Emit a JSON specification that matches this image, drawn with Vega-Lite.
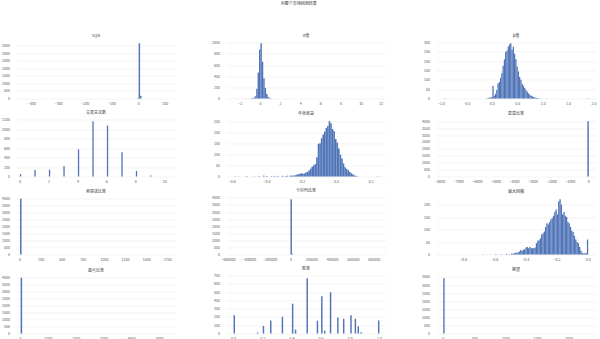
{
"$schema": "https://vega.github.io/schema/vega-lite/v6.json",
"padding": {"left": 1.5, "top": 1.5, "right": 1, "bottom": 1},
"title": {"text": "对整个市场回测结果", "fontSize": 4, "offset": 28, "anchor": "middle", "fontWeight": "normal", "color": "#333333"},
"columns": 3,
"spacing": {"row": 5, "column": 36},
"datasets": {
"p1": [{"s":-429,"e":-423.6,"n":1},{"s":-5.4,"e":0,"n":40},{"s":0,"e":5.4,"n":3650},{"s":5.4,"e":10.8,"n":175},{"s":107.6,"e":113,"n":1}],
"p2": [{"s":-2.6,"e":-2.46,"n":1},{"s":-1.54,"e":-1.4,"n":2},{"s":-0.98,"e":-0.84,"n":4},{"s":-0.84,"e":-0.7,"n":8},{"s":-0.7,"e":-0.56,"n":15},{"s":-0.56,"e":-0.42,"n":40},{"s":-0.42,"e":-0.28,"n":175},{"s":-0.28,"e":-0.14,"n":465},{"s":-0.14,"e":0,"n":880},{"s":0,"e":0.14,"n":990},{"s":0.14,"e":0.28,"n":660},{"s":0.28,"e":0.42,"n":365},{"s":0.42,"e":0.56,"n":190},{"s":0.56,"e":0.7,"n":80},{"s":0.7,"e":0.84,"n":30},{"s":0.84,"e":0.98,"n":10},{"s":0.98,"e":1.12,"n":3},{"s":11.61,"e":11.75,"n":1}],
"p3": [{"s":-0.948,"e":-0.923,"n":1},{"s":-0.125,"e":-0.1,"n":2},{"s":-0.1,"e":-0.075,"n":3},{"s":-0.075,"e":-0.05,"n":4},{"s":-0.05,"e":-0.025,"n":5},{"s":-0.025,"e":0,"n":8},{"s":0,"e":0.025,"n":69},{"s":0.025,"e":0.05,"n":15},{"s":0.05,"e":0.075,"n":25},{"s":0.075,"e":0.1,"n":46},{"s":0.1,"e":0.125,"n":80},{"s":0.125,"e":0.15,"n":88},{"s":0.15,"e":0.175,"n":110},{"s":0.175,"e":0.2,"n":136},{"s":0.2,"e":0.225,"n":175},{"s":0.225,"e":0.25,"n":210},{"s":0.25,"e":0.275,"n":250},{"s":0.275,"e":0.3,"n":258},{"s":0.3,"e":0.325,"n":278},{"s":0.325,"e":0.35,"n":290},{"s":0.35,"e":0.375,"n":296},{"s":0.375,"e":0.4,"n":262},{"s":0.4,"e":0.425,"n":277},{"s":0.425,"e":0.45,"n":240},{"s":0.45,"e":0.475,"n":210},{"s":0.475,"e":0.5,"n":172},{"s":0.5,"e":0.525,"n":145},{"s":0.525,"e":0.55,"n":115},{"s":0.55,"e":0.575,"n":100},{"s":0.575,"e":0.6,"n":78},{"s":0.6,"e":0.625,"n":68},{"s":0.625,"e":0.65,"n":56},{"s":0.65,"e":0.675,"n":45},{"s":0.675,"e":0.7,"n":36},{"s":0.7,"e":0.725,"n":27},{"s":0.725,"e":0.75,"n":20},{"s":0.75,"e":0.775,"n":15},{"s":0.775,"e":0.8,"n":12},{"s":0.8,"e":0.825,"n":8},{"s":0.825,"e":0.85,"n":5},{"s":0.85,"e":0.875,"n":4},{"s":0.875,"e":0.9,"n":3},{"s":0.9,"e":0.925,"n":2},{"s":0.95,"e":0.975,"n":1},{"s":1.05,"e":1.075,"n":1},{"s":1.873,"e":1.898,"n":1}],
"p4": [{"s":0,"e":0.09,"n":50},{"s":1,"e":1.09,"n":140},{"s":2,"e":2.09,"n":145},{"s":3,"e":3.09,"n":222},{"s":4,"e":4.09,"n":576},{"s":5,"e":5.09,"n":1172},{"s":6,"e":6.09,"n":1083},{"s":7,"e":7.09,"n":513},{"s":8,"e":8.09,"n":118},{"s":9,"e":9.09,"n":20}],
"p5": [{"s":-0.588,"e":-0.579,"n":1},{"s":-0.567,"e":-0.558,"n":1},{"s":-0.522,"e":-0.513,"n":2},{"s":-0.477,"e":-0.468,"n":1},{"s":-0.45,"e":-0.441,"n":2},{"s":-0.423,"e":-0.414,"n":4},{"s":-0.405,"e":-0.396,"n":2},{"s":-0.378,"e":-0.369,"n":2},{"s":-0.36,"e":-0.351,"n":3},{"s":-0.342,"e":-0.333,"n":2},{"s":-0.315,"e":-0.306,"n":3},{"s":-0.297,"e":-0.288,"n":2},{"s":-0.288,"e":-0.279,"n":4},{"s":-0.27,"e":-0.261,"n":3},{"s":-0.261,"e":-0.252,"n":5},{"s":-0.252,"e":-0.243,"n":4},{"s":-0.243,"e":-0.234,"n":6},{"s":-0.234,"e":-0.225,"n":8},{"s":-0.225,"e":-0.216,"n":10},{"s":-0.216,"e":-0.207,"n":12},{"s":-0.207,"e":-0.198,"n":15},{"s":-0.198,"e":-0.189,"n":13},{"s":-0.189,"e":-0.18,"n":14},{"s":-0.18,"e":-0.171,"n":18},{"s":-0.171,"e":-0.162,"n":21},{"s":-0.162,"e":-0.153,"n":28},{"s":-0.153,"e":-0.144,"n":36},{"s":-0.144,"e":-0.135,"n":45},{"s":-0.135,"e":-0.126,"n":52},{"s":-0.126,"e":-0.117,"n":57},{"s":-0.117,"e":-0.108,"n":88},{"s":-0.108,"e":-0.099,"n":150},{"s":-0.099,"e":-0.09,"n":153},{"s":-0.09,"e":-0.081,"n":176},{"s":-0.081,"e":-0.072,"n":193},{"s":-0.072,"e":-0.063,"n":206},{"s":-0.063,"e":-0.054,"n":222},{"s":-0.054,"e":-0.045,"n":232},{"s":-0.045,"e":-0.036,"n":254},{"s":-0.036,"e":-0.027,"n":244},{"s":-0.027,"e":-0.018,"n":218},{"s":-0.018,"e":-0.009,"n":208},{"s":-0.009,"e":0,"n":172},{"s":0,"e":0.009,"n":156},{"s":0.009,"e":0.018,"n":128},{"s":0.018,"e":0.027,"n":100},{"s":0.027,"e":0.036,"n":82},{"s":0.036,"e":0.045,"n":60},{"s":0.045,"e":0.054,"n":42},{"s":0.054,"e":0.063,"n":35},{"s":0.063,"e":0.072,"n":29},{"s":0.072,"e":0.081,"n":21},{"s":0.081,"e":0.09,"n":15},{"s":0.09,"e":0.099,"n":10},{"s":0.099,"e":0.108,"n":5},{"s":0.108,"e":0.117,"n":3},{"s":0.117,"e":0.126,"n":1},{"s":0.234,"e":0.243,"n":1}],
"p6": [{"s":-7785,"e":-7707,"n":1},{"s":-78,"e":0,"n":3995}],
"p7": [{"s":0,"e":18,"n":3990},{"s":1690,"e":1708,"n":1}],
"p8": [{"s":-580000,"e":-566000,"n":1},{"s":-5000,"e":9000,"n":3900},{"s":9000,"e":23000,"n":40},{"s":850000,"e":864000,"n":1}],
"p9": [{"s":-0.0084,"e":0,"n":60},{"s":-0.0168,"e":-0.0084,"n":6},{"s":-0.0252,"e":-0.0168,"n":5},{"s":-0.0336,"e":-0.0252,"n":4},{"s":-0.042,"e":-0.0336,"n":6},{"s":-0.0504,"e":-0.042,"n":15},{"s":-0.0588,"e":-0.0504,"n":30},{"s":-0.0672,"e":-0.0588,"n":45},{"s":-0.0756,"e":-0.0672,"n":50},{"s":-0.084,"e":-0.0756,"n":60},{"s":-0.0924,"e":-0.084,"n":75},{"s":-0.1008,"e":-0.0924,"n":90},{"s":-0.1092,"e":-0.1008,"n":95},{"s":-0.1176,"e":-0.1092,"n":110},{"s":-0.126,"e":-0.1176,"n":125},{"s":-0.1344,"e":-0.126,"n":130},{"s":-0.1428,"e":-0.1344,"n":150},{"s":-0.1512,"e":-0.1428,"n":155},{"s":-0.1596,"e":-0.1512,"n":170},{"s":-0.168,"e":-0.1596,"n":160},{"s":-0.1764,"e":-0.168,"n":200},{"s":-0.1848,"e":-0.1764,"n":221},{"s":-0.1932,"e":-0.1848,"n":212},{"s":-0.2016,"e":-0.1932,"n":160},{"s":-0.21,"e":-0.2016,"n":180},{"s":-0.2184,"e":-0.21,"n":170},{"s":-0.2268,"e":-0.2184,"n":155},{"s":-0.2352,"e":-0.2268,"n":145},{"s":-0.2436,"e":-0.2352,"n":140},{"s":-0.252,"e":-0.2436,"n":130},{"s":-0.2604,"e":-0.252,"n":120},{"s":-0.2688,"e":-0.2604,"n":125},{"s":-0.2772,"e":-0.2688,"n":110},{"s":-0.2856,"e":-0.2772,"n":92},{"s":-0.294,"e":-0.2856,"n":85},{"s":-0.3024,"e":-0.294,"n":80},{"s":-0.3108,"e":-0.3024,"n":65},{"s":-0.3192,"e":-0.3108,"n":57},{"s":-0.3276,"e":-0.3192,"n":55},{"s":-0.336,"e":-0.3276,"n":45},{"s":-0.3444,"e":-0.336,"n":28},{"s":-0.3528,"e":-0.3444,"n":26},{"s":-0.3612,"e":-0.3528,"n":25},{"s":-0.3696,"e":-0.3612,"n":25},{"s":-0.378,"e":-0.3696,"n":30},{"s":-0.3864,"e":-0.378,"n":25},{"s":-0.3948,"e":-0.3864,"n":30},{"s":-0.4032,"e":-0.3948,"n":28},{"s":-0.4116,"e":-0.4032,"n":20},{"s":-0.42,"e":-0.4116,"n":20},{"s":-0.4284,"e":-0.42,"n":14},{"s":-0.4368,"e":-0.4284,"n":18},{"s":-0.4452,"e":-0.4368,"n":12},{"s":-0.4536,"e":-0.4452,"n":8},{"s":-0.462,"e":-0.4536,"n":8},{"s":-0.4704,"e":-0.462,"n":6},{"s":-0.4788,"e":-0.4704,"n":5},{"s":-0.4872,"e":-0.4788,"n":3},{"s":-0.4956,"e":-0.4872,"n":4},{"s":-0.5124,"e":-0.504,"n":2},{"s":-0.5292,"e":-0.5208,"n":3},{"s":-0.5628,"e":-0.5544,"n":2},{"s":-0.5964,"e":-0.588,"n":2},{"s":-0.6804,"e":-0.672,"n":1}],
"p10": [{"s":0,"e":55,"n":3990},{"s":5000,"e":5055,"n":1}],
"p11": [{"s":0,"e":0.01,"n":221},{"s":0.16,"e":0.17,"n":12},{"s":0.2,"e":0.21,"n":91},{"s":0.25,"e":0.26,"n":158},{"s":0.33,"e":0.34,"n":202},{"s":0.4,"e":0.41,"n":360},{"s":0.42,"e":0.43,"n":47},{"s":0.5,"e":0.51,"n":668},{"s":0.57,"e":0.58,"n":154},{"s":0.6,"e":0.61,"n":451},{"s":0.62,"e":0.63,"n":32},{"s":0.66,"e":0.67,"n":498},{"s":0.71,"e":0.72,"n":194},{"s":0.75,"e":0.76,"n":178},{"s":0.8,"e":0.81,"n":221},{"s":0.83,"e":0.84,"n":178},{"s":0.85,"e":0.86,"n":87},{"s":0.87,"e":0.88,"n":16},{"s":0.99,"e":1.0,"n":158}],
"p12": [{"s":0,"e":22,"n":3420},{"s":2200,"e":2222,"n":1}]
},
"concat": [
{"title":"SQN","width":159,"height":58,"data":{"name":"p1"},"mark":{"type":"bar","binSpacing":0},"encoding":{
"x":{"field":"s","type":"quantitative","bin":{"binned":true},"title":null,"scale":{"domain":[-456,140],"nice":false,"zero":false},"axis":{"values":[-400,-300,-200,-100,0,100],"format":"d"}},
"x2":{"field":"e"},
"y":{"field":"n","type":"quantitative","title":null,"scale":{"domain":[0,3830],"nice":false},"axis":{"values":[0,500,1000,1500,2000,2500,3000,3500],"format":"d"}}}},
{"title":"α值","width":159,"height":58,"data":{"name":"p2"},"mark":{"type":"bar","binSpacing":0},"encoding":{
"x":{"field":"s","type":"quantitative","bin":{"binned":true},"title":null,"scale":{"domain":[-3.32,12.47],"nice":false,"zero":false},"axis":{"values":[-2,0,2,4,6,8,10,12],"format":"d"}},
"x2":{"field":"e"},
"y":{"field":"n","type":"quantitative","title":null,"scale":{"domain":[0,1040],"nice":false},"axis":{"values":[0,200,400,600,800,1000],"format":"d"}}}},
{"title":"β值","width":159,"height":58,"data":{"name":"p3"},"mark":{"type":"bar","binSpacing":0},"encoding":{
"x":{"field":"s","type":"quantitative","bin":{"binned":true},"title":null,"scale":{"domain":[-1.09,2.04],"nice":false,"zero":false},"axis":{"values":[-1,-0.5,0,0.5,1,1.5,2],"format":".1f"}},
"x2":{"field":"e"},
"y":{"field":"n","type":"quantitative","title":null,"scale":{"domain":[0,311],"nice":false},"axis":{"values":[0,50,100,150,200,250,300],"format":"d"}}}},
{"title":"交易总次数","width":159,"height":58,"data":{"name":"p4"},"mark":{"type":"bar","binSpacing":0},"encoding":{
"x":{"field":"s","type":"quantitative","bin":{"binned":true},"title":null,"scale":{"domain":[-0.2,10.77],"nice":false,"zero":false},"axis":{"values":[0,2,4,6,8,10],"format":"d"}},
"x2":{"field":"e"},
"y":{"field":"n","type":"quantitative","title":null,"scale":{"domain":[0,1231],"nice":false},"axis":{"values":[0,200,400,600,800,1000,1200],"format":"d"}}}},
{"title":"年化收益","width":159,"height":58,"data":{"name":"p5"},"mark":{"type":"bar","binSpacing":0},"encoding":{
"x":{"field":"s","type":"quantitative","bin":{"binned":true},"title":null,"scale":{"domain":[-0.63,0.285],"nice":false,"zero":false},"axis":{"values":[-0.6,-0.4,-0.2,0,0.2],"format":".1f"}},
"x2":{"field":"e"},
"y":{"field":"n","type":"quantitative","title":null,"scale":{"domain":[0,266],"nice":false},"axis":{"values":[0,50,100,150,200,250],"format":"d"}}}},
{"title":"夏普比率","width":159,"height":58,"data":{"name":"p6"},"mark":{"type":"bar","binSpacing":0},"encoding":{
"x":{"field":"s","type":"quantitative","bin":{"binned":true},"title":null,"scale":{"domain":[-8176,388],"nice":false,"zero":false},"axis":{"values":[-8000,-7000,-6000,-5000,-4000,-3000,-2000,-1000,0],"format":"d"}},
"x2":{"field":"e"},
"y":{"field":"n","type":"quantitative","title":null,"scale":{"domain":[0,4195],"nice":false},"axis":{"values":[0,500,1000,1500,2000,2500,3000,3500,4000],"format":"d"}}}},
{"title":"索提诺比率","width":159,"height":58,"data":{"name":"p7"},"mark":{"type":"bar","binSpacing":0},"encoding":{
"x":{"field":"s","type":"quantitative","bin":{"binned":true},"title":null,"scale":{"domain":[-36,1848],"nice":false,"zero":false},"axis":{"values":[0,250,500,750,1000,1250,1500,1750],"format":"d"}},
"x2":{"field":"e"},
"y":{"field":"n","type":"quantitative","title":null,"scale":{"domain":[0,4150],"nice":false},"axis":{"values":[0,500,1000,1500,2000,2500,3000,3500,4000],"format":"d"}}}},
{"title":"卡尔玛比率","width":159,"height":58,"data":{"name":"p8"},"mark":{"type":"bar","binSpacing":0},"encoding":{
"x":{"field":"s","type":"quantitative","bin":{"binned":true},"title":null,"scale":{"domain":[-615000,913000],"nice":false,"zero":false},"axis":{"values":[-600000,-400000,-200000,0,200000,400000,600000,800000],"format":"d"}},
"x2":{"field":"e"},
"y":{"field":"n","type":"quantitative","title":null,"scale":{"domain":[0,4100],"nice":false},"axis":{"values":[0,500,1000,1500,2000,2500,3000,3500,4000],"format":"d"}}}},
{"title":"最大回撤","width":159,"height":58,"data":{"name":"p9"},"mark":{"type":"bar","binSpacing":0},"encoding":{
"x":{"field":"s","type":"quantitative","bin":{"binned":true},"title":null,"scale":{"domain":[-0.97,0.05],"nice":false,"zero":false},"axis":{"values":[-0.8,-0.6,-0.4,-0.2,0],"format":".1f"}},
"x2":{"field":"e"},
"y":{"field":"n","type":"quantitative","title":null,"scale":{"domain":[0,232],"nice":false},"axis":{"values":[0,50,100,150,200],"format":"d"}}}},
{"title":"盈亏比率","width":159,"height":58,"data":{"name":"p10"},"mark":{"type":"bar","binSpacing":0},"encoding":{
"x":{"field":"s","type":"quantitative","bin":{"binned":true},"title":null,"scale":{"domain":[-130,5589],"nice":false,"zero":false},"axis":{"values":[0,1000,2000,3000,4000,5000],"format":"d"}},
"x2":{"field":"e"},
"y":{"field":"n","type":"quantitative","title":null,"scale":{"domain":[0,4150],"nice":false},"axis":{"values":[0,500,1000,1500,2000,2500,3000,3500,4000],"format":"d"}}}},
{"title":"胜率","width":159,"height":58,"data":{"name":"p11"},"mark":{"type":"bar","binSpacing":0},"encoding":{
"x":{"field":"s","type":"quantitative","bin":{"binned":true},"title":null,"scale":{"domain":[-0.045,1.045],"nice":false,"zero":false},"axis":{"values":[0,0.2,0.4,0.6,0.8,1],"format":".1f"}},
"x2":{"field":"e"},
"y":{"field":"n","type":"quantitative","title":null,"scale":{"domain":[0,701],"nice":false},"axis":{"values":[0,100,200,300,400,500,600,700],"format":"d"}}}},
{"title":"期望","width":159,"height":58,"data":{"name":"p12"},"mark":{"type":"bar","binSpacing":0},"encoding":{
"x":{"field":"s","type":"quantitative","bin":{"binned":true},"title":null,"scale":{"domain":[-99,2431],"nice":false,"zero":false},"axis":{"values":[0,500,1000,1500,2000],"format":"d"}},
"x2":{"field":"e"},
"y":{"field":"n","type":"quantitative","title":null,"scale":{"domain":[0,3591],"nice":false},"axis":{"values":[0,500,1000,1500,2000,2500,3000,3500],"format":"d"}}}}
],
"config": {
"font": "Noto Sans CJK SC",
"view": {"stroke": null},
"axis": {"ticks": false, "domain": false, "labelFontSize": 3.6, "labelColor": "#555555", "gridColor": "#ececec", "gridWidth": 0.6, "labelFlush": false, "labelOverlap": false},
"axisX": {"labelPadding": 2.5},
"axisY": {"labelPadding": 7},
"title": {"fontSize": 4, "fontWeight": "normal", "color": "#333333", "offset": 3},
"bar": {"color": "#4f74b8"}
}
}
